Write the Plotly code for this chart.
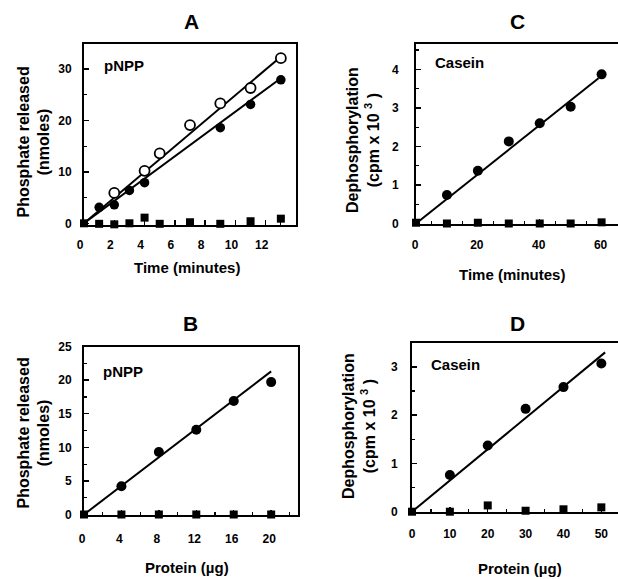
import plotly.graph_objects as go

W, H = 618, 579

# ---------------- data ----------------
# Panel A: pNPP vs time
a_time_open = [2, 4, 5, 7, 9, 11, 13]
a_open = [5.9, 10.2, 13.6, 19.1, 23.3, 26.3, 32.1]
a_time_filled = [1, 2, 3, 4, 9, 11, 13]
a_filled = [3.1, 3.6, 6.4, 7.9, 18.6, 23.1, 27.9]
a_time_sq = [0, 1, 2, 3, 4, 5, 7, 9, 11, 13]
a_sq = [0, -0.1, -0.2, 0, 1.1, -0.1, 0.2, -0.1, 0.4, 0.9]
a_fit_x = [0, 13]
a_fit_open = [0, 32.4]
a_fit_filled = [0, 28.2]

# Panel B: pNPP vs protein
b_protein = [4, 8, 12, 16, 20]
b_filled = [4.2, 9.3, 12.6, 16.9, 19.7]
b_protein_sq = [0, 4, 8, 12, 16, 20]
b_sq = [0, 0, 0, 0, 0, 0]
b_fit_x = [0, 20]
b_fit_y = [0, 21.3]

# Panel C: casein vs time
c_time = [10, 20, 30, 40, 50, 60]
c_filled = [0.74, 1.37, 2.13, 2.60, 3.03, 3.87]
c_time_sq = [0, 10, 20, 30, 40, 50, 60]
c_sq = [0.02, 0, 0.02, 0, 0, 0, 0.03]
c_fit_x = [0, 59]
c_fit_y = [0, 3.77]

# Panel D: casein vs protein
d_protein = [10, 20, 30, 40, 50]
d_filled = [0.76, 1.37, 2.13, 2.58, 3.07]
d_protein_sq = [0, 10, 20, 30, 40, 50]
d_sq = [0, 0, 0.13, 0.02, 0.05, 0.09]
d_fit_x = [0, 51]
d_fit_y = [0, 3.3]

# tick labels
a_xticks = [0, 2, 4, 6, 8, 10, 12]
a_yticks = [0, 10, 20, 30]
b_xticks = [0, 4, 8, 12, 16, 20]
b_yticks = [0, 5, 10, 15, 20, 25]
c_xticks = [0, 20, 40, 60]
c_yticks = [0, 1, 2, 3, 4]
d_xticks = [0, 10, 20, 30, 40, 50]
d_yticks = [0, 1, 2, 3]

FONT = "Liberation Sans, Arial, Helvetica, sans-serif"

fig = go.Figure()

def px_x(p):
    return p / W

def px_y(p):
    return 1 - p / H

def line(x, y, ax):
    fig.add_trace(go.Scatter(x=x, y=y, mode="lines", xaxis=ax[0], yaxis=ax[1],
                             line=dict(color="black", width=2), cliponaxis=False,
                             showlegend=False, hoverinfo="skip"))

def pts(x, y, ax, symbol, size, filled=True):
    fig.add_trace(go.Scatter(
        x=x, y=y, mode="markers", xaxis=ax[0], yaxis=ax[1], cliponaxis=False,
        marker=dict(symbol=symbol, size=size,
                    color="black" if filled else "white",
                    line=dict(color="black", width=0 if filled else 1.8)),
        showlegend=False))

A = ("x", "y")
B = ("x2", "y2")
C = ("x3", "y3")
D = ("x4", "y4")

# A
line(a_fit_x, a_fit_open, A)
line(a_fit_x, a_fit_filled, A)
pts(a_time_sq, a_sq, A, "square", 8)
pts(a_time_filled, a_filled, A, "circle", 9.5)
pts(a_time_open, a_open, A, "circle", 10, filled=False)
# B
line(b_fit_x, b_fit_y, B)
pts(b_protein_sq, b_sq, B, "square", 8)
pts(b_protein, b_filled, B, "circle", 10)
# C
line(c_fit_x, c_fit_y, C)
pts(c_time_sq, c_sq, C, "square", 8)
pts(c_time, c_filled, C, "circle", 10)
# D
line(d_fit_x, d_fit_y, D)
pts(d_protein_sq, d_sq, D, "square", 8)
pts(d_protein, d_filled, D, "circle", 10)
# empty trace that carries the label-only axis of panel A
fig.add_trace(go.Scatter(x=[], y=[], xaxis="x5", yaxis="y", mode="markers",
                         showlegend=False, hoverinfo="skip"))

tickfont = dict(family=FONT, size=12, color="black", weight="bold")

def xaxis(domain, rng, tickvals, minor, standoff, shift=0, anchor="y"):
    return dict(domain=domain, range=rng, tickmode="array", tickvals=tickvals,
                showgrid=False, anchor=anchor,
                zeroline=False, showline=True, linecolor="black", linewidth=2,
                mirror=True, ticks="inside", ticklen=5, tickwidth=1.5,
                tickcolor="black", tickfont=tickfont, automargin=False,
                ticklabelstandoff=standoff, ticklabelshift=shift,
                minor=dict(dtick=minor, tick0=0, ticks="inside", ticklen=3,
                           tickwidth=1.2, tickcolor="black"),
                fixedrange=True)

def yaxis(domain, rng, tickvals, minor, standoff, mirror=True, anchor="x"):
    return dict(domain=domain, range=rng, tickmode="array", tickvals=tickvals,
                showgrid=False,
                zeroline=False, showline=True, linecolor="black", linewidth=2,
                mirror=mirror, ticks="inside", ticklen=5, tickwidth=1.5,
                tickcolor="black", tickfont=tickfont, automargin=False,
                ticklabelstandoff=standoff, anchor=anchor,
                minor=dict(dtick=minor, tick0=0, ticks="inside", ticklen=3,
                           tickwidth=1.2, tickcolor="black"),
                fixedrange=True)

A_Y0 = -0.3
a_xdomain = [px_x(84), px_x(296)]
a_xrange = [0, 14]
xa = xaxis(a_xdomain, a_xrange, a_xticks, 1, 0, 0, "y")
xa["showticklabels"] = False

fig.update_layout(
    width=W, height=H,
    margin=dict(l=0, r=0, t=0, b=0),
    paper_bgcolor="white", plot_bgcolor="white",
    showlegend=False,
    xaxis=xa,
    yaxis=yaxis([px_y(223.3 + 0.3 * 5.14), px_y(44.3)], [A_Y0, 34.8], a_yticks, 5, 8, anchor="x"),
    xaxis5=dict(overlaying="x", anchor="free", position=px_y(235.5),
                domain=a_xdomain, range=a_xrange, tickmode="array", tickvals=a_xticks,
                showline=False, ticks="", showgrid=False, zeroline=False,
                tickfont=tickfont, automargin=False, ticklabelshift=-4,
                fixedrange=True),
    xaxis2=xaxis([px_x(84), px_x(298.3)], [0, 22.9], b_xticks, 2, 12, -2, "y2"),
    yaxis2=yaxis([px_y(514.5), px_y(346.5)], [0, 25], b_yticks, 2.5, 8, anchor="x2"),
    xaxis3=xaxis([px_x(416), 1.0], [0, 65.3], c_xticks, 5, 9, -1, "y3"),
    yaxis3=yaxis([px_y(223.5), px_y(43.5)], [0, 4.67], c_yticks, 0.5, 13, mirror=False, anchor="x3"),
    xaxis4=xaxis([px_x(412), 1.0], [0, 54.4], d_xticks, 5, 10, 0, "y4"),
    yaxis4=yaxis([px_y(511.7), px_y(342.7)], [0, 3.5], d_yticks, 0.5, 10, mirror=False, anchor="x4"),
)

def ann(text, x, y, size, angle=0):
    fig.add_annotation(text=text, x=px_x(x), y=px_y(y), xref="paper", yref="paper",
                       xanchor="center", yanchor="middle", showarrow=False,
                       textangle=angle,
                       font=dict(family=FONT, size=size, color="black", weight="bold"))

# panel letters
ann("A", 191.5, 21, 21)
ann("C", 517.5, 21, 21)
ann("B", 190, 323, 21)
ann("D", 517.5, 323, 21)

# inset labels
ann("pNPP", 124, 66, 15)
ann("pNPP", 122.5, 371, 15)
ann("Casein", 459, 63, 15)
ann("Casein", 455, 364, 15)

# x titles
ann("Time (minutes)", 187, 267, 15)
ann("Protein (\u00b5g)", 187, 567, 15)
ann("Time (minutes)", 511.7, 274, 15)
ann("Protein (\u00b5g)", 520, 568, 15)

# y titles
ann("Phosphate released<br>(nmoles)", 33, 142.5, 16, -90)
ann("Phosphate released<br>(nmoles)", 33.5, 433, 16, -90)
ann("Dephosphorylation<br>(cpm x 10 <sup>3</sup> )", 363, 140, 16, -90)
ann("Dephosphorylation<br>(cpm x 10 <sup>3</sup> )", 359, 426, 16, -90)

fig.write_html("out.html",
               config={"displayModeBar": False, "staticPlot": True},
               post_script="document.body.style.margin='0';"
                           "document.body.style.overflow='hidden';")
